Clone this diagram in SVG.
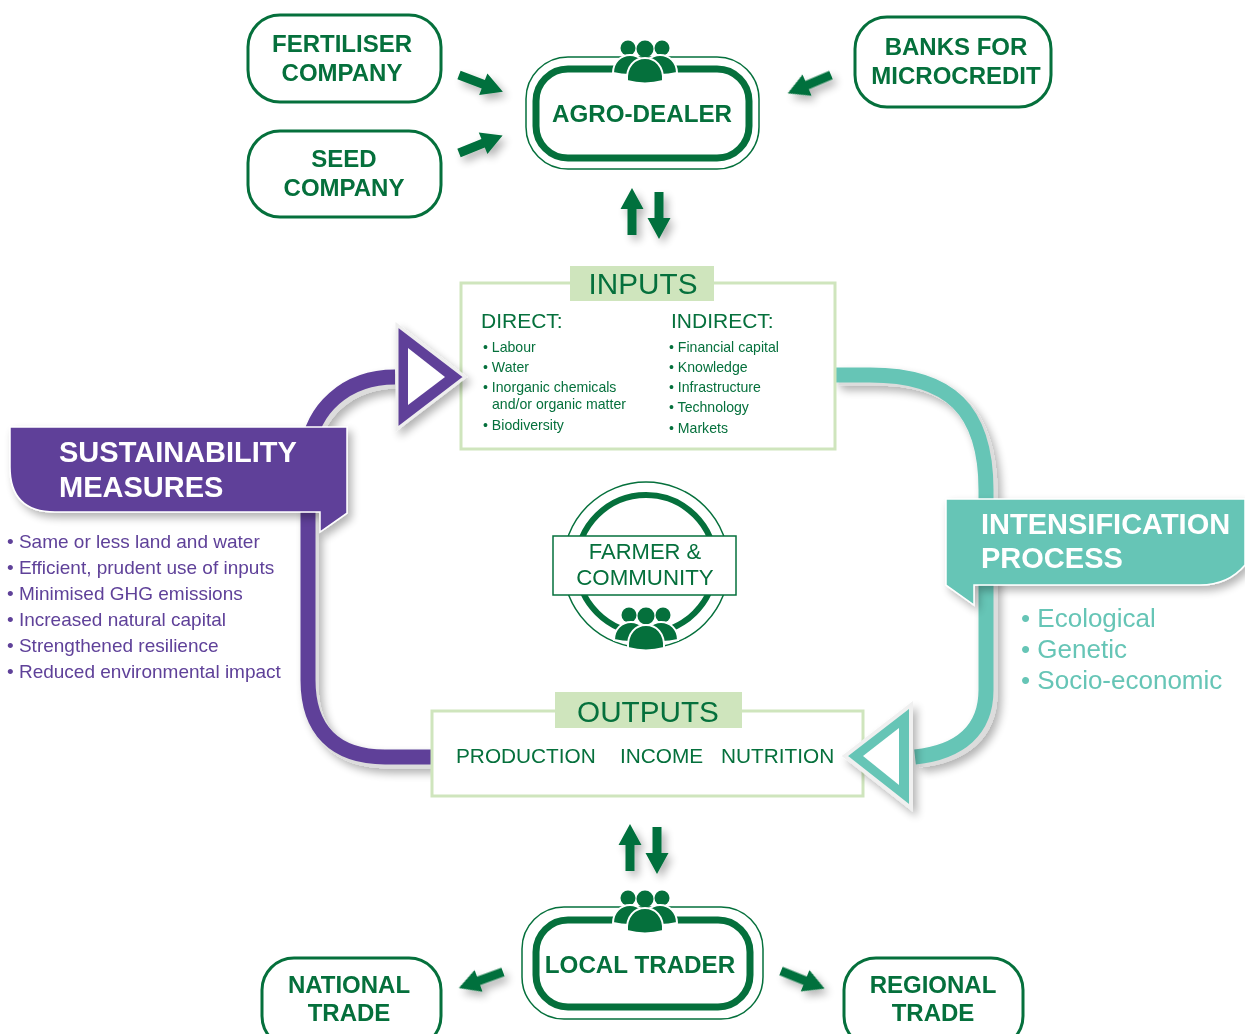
<svg xmlns="http://www.w3.org/2000/svg" width="1245" height="1034" viewBox="0 0 1245 1034">
<style>
text{font-family:"Liberation Sans",Arial,sans-serif;fill:#05703c}
.b{font-weight:bold;font-size:24px;text-anchor:middle}
.box{fill:#fff;stroke:#05703c;stroke-width:3}
.out{fill:#fff;stroke:#05703c;stroke-width:1.5}
.inn{fill:#fff;stroke:#05703c;stroke-width:7}
.lg{fill:#fff;stroke:#cfe5bd;stroke-width:3}
.tag{fill:#cfe5bd}
.h{font-size:29.7px;text-anchor:middle}
.s{font-size:14.1px}
.d{font-size:21px}
.o{font-size:20.8px}
.w{font-weight:bold;font-size:29px;fill:#fff}
.p{font-size:19px;fill:#5f4199}
.t{font-size:26px;fill:#66c5b6}
.band{fill:none;stroke-width:15}
</style>
<defs>
<filter id="sh" x="-30%" y="-30%" width="170%" height="170%"><feGaussianBlur in="SourceAlpha" stdDeviation="4"/><feOffset dx="4" dy="5"/><feComponentTransfer><feFuncA type="linear" slope="0.3"/></feComponentTransfer><feMerge><feMergeNode/><feMergeNode in="SourceGraphic"/></feMerge></filter>
<polygon id="arrow" points="0,-4.5 26,-4.5 26,-11.5 47,0 26,11.5 26,4.5 0,4.5" fill="#05703c"/>
<g id="people" fill="#05703c">
<circle cx="-17" cy="8" r="7.5"/><circle cx="17" cy="8" r="7.5"/><circle cx="0" cy="9" r="8.5"/>
<path d="M-32 33C-32 22-24 15-15 15S2 22 2 33Q-15 37-32 33Z" stroke="#fff" stroke-width="2"/>
<path d="M32 33C32 22 24 15 15 15S-2 22-2 33Q15 37 32 33Z" stroke="#fff" stroke-width="2"/>
<path d="M-18 41C-19 26-10 18 0 18S19 26 18 41Q0 46-18 41Z" stroke="#fff" stroke-width="2"/>
</g>
</defs>

<g id="connectors">
<g filter="url(#sh)">
<use href="#arrow" transform="translate(459,75) rotate(21)"/>
<use href="#arrow" transform="translate(459,153) rotate(-22)"/>
<use href="#arrow" transform="translate(831,75) rotate(157)"/>
<use href="#arrow" transform="translate(632,235) rotate(-90)"/>
<use href="#arrow" transform="translate(659,192) rotate(90)"/>
<use href="#arrow" transform="translate(630,871) rotate(-90)"/>
<use href="#arrow" transform="translate(657,827) rotate(90)"/>
<use href="#arrow" transform="translate(503,972) rotate(160)"/>
<use href="#arrow" transform="translate(781,971) rotate(22)"/>
</g>
<g id="purple-band" filter="url(#sh)">
<path class="band" stroke="#dcdcdc" transform="translate(3,4)" d="M432 757H385C335 757 308 730 308 680V450C312 410 345 377 395 377"/>
<path class="band" stroke="#5f4199" d="M432 757H385C335 757 308 730 308 680V450C312 410 345 377 395 377"/>
</g>
<g id="teal-band" filter="url(#sh)">
<path class="band" stroke="#dcdcdc" transform="translate(4,3)" d="M835 375H870C950 375 986 410 986 490V690C986 730 960 752 915 757"/>
<path class="band" stroke="#66c5b6" d="M835 375H870C950 375 986 410 986 490V690C986 730 960 752 915 757"/>
</g>
</g>

<g id="fertiliser-company"><rect class="box" x="248" y="15" width="193" height="87" rx="32"/>
<text class="b" x="342" y="52">FERTILISER</text><text class="b" x="342" y="81">COMPANY</text></g>
<g id="seed-company"><rect class="box" x="248" y="131" width="193" height="86" rx="32"/>
<text class="b" x="344" y="167">SEED</text><text class="b" x="344" y="196">COMPANY</text></g>
<g id="banks"><rect class="box" x="855" y="17" width="196" height="90" rx="32"/>
<text class="b" x="956" y="55">BANKS FOR</text><text class="b" x="956" y="84">MICROCREDIT</text></g>

<g id="agro-dealer"><rect class="out" x="526" y="57" width="233" height="112" rx="42"/>
<rect class="inn" x="536" y="69" width="213" height="89" rx="32"/>
<use href="#people" transform="translate(645,40)"/>
<text class="b" x="642" y="122" style="font-size:24.2px">AGRO-DEALER</text></g>

<g id="inputs"><rect class="lg" x="461" y="283" width="374" height="166"/>
<rect class="tag" x="570" y="266" width="144" height="35"/>
<text class="h" x="643" y="294">INPUTS</text>
<text class="d" x="481" y="328">DIRECT:</text>
<text class="s" x="483" y="352">• Labour</text>
<text class="s" x="483" y="372">• Water</text>
<text class="s" x="483" y="392">• Inorganic chemicals</text>
<text class="s" x="492" y="409">and/or organic matter</text>
<text class="s" x="483" y="430">• Biodiversity</text>
<text class="d" x="671" y="328">INDIRECT:</text>
<text class="s" x="669" y="352">• Financial capital</text>
<text class="s" x="669" y="372">• Knowledge</text>
<text class="s" x="669" y="392">• Infrastructure</text>
<text class="s" x="669" y="412">• Technology</text>
<text class="s" x="669" y="433">• Markets</text></g>

<g id="outputs"><rect class="lg" x="432" y="711" width="431" height="85"/>
<rect class="tag" x="555" y="692" width="187" height="36"/>
<text class="h" x="648" y="722">OUTPUTS</text>
<text class="o" x="456" y="763">PRODUCTION</text>
<text class="o" x="620" y="763">INCOME</text>
<text class="o" x="721" y="763">NUTRITION</text></g>

<g id="farmer-community">
<circle cx="646" cy="565" r="83" fill="#fff" stroke="#05703c" stroke-width="1.5"/>
<circle cx="646" cy="564" r="69" fill="#fff" stroke="#05703c" stroke-width="6"/>
<rect x="553" y="536" width="183" height="59" fill="#fff" stroke="#05703c" stroke-width="1.5"/>
<use href="#people" transform="translate(646,607)"/>
<text x="645" y="559" text-anchor="middle" style="font-size:22px">FARMER &amp;</text>
<text x="645" y="585" text-anchor="middle" style="font-size:22.3px">COMMUNITY</text></g>

<g id="purple-triangle" filter="url(#sh)"><polygon points="397,325 465,377 397,429" fill="#5f4199" stroke="#eee" stroke-width="3"/><polygon points="408,348 445,377 408,405" fill="#fff"/></g>
<g id="teal-triangle" filter="url(#sh)"><polygon points="845,756 911,705 911,808" fill="#66c5b6" stroke="#f0f0f0" stroke-width="4"/><polygon points="863,756 899,728 899,785" fill="#fff"/></g>

<g id="sustainability">
<path filter="url(#sh)" d="M10 427H347V513L320 532V512H55Q10 512 10 467Z" fill="#5f4199" stroke="#fff" stroke-width="1.5"/>
<text class="w" x="59" y="462">SUSTAINABILITY</text><text class="w" x="59" y="497">MEASURES</text>
<text class="p" x="7" y="548">• Same or less land and water</text>
<text class="p" x="7" y="574">• Efficient, prudent use of inputs</text>
<text class="p" x="7" y="600">• Minimised GHG emissions</text>
<text class="p" x="7" y="626">• Increased natural capital</text>
<text class="p" x="7" y="652">• Strengthened resilience</text>
<text class="p" x="7" y="678">• Reduced environmental impact</text></g>

<g id="intensification">
<path filter="url(#sh)" d="M946 499H1245V565Q1228 585 1200 585H974V605L946 585Z" fill="#66c5b6" stroke="#fff" stroke-width="1.5"/>
<text class="w" x="981" y="534">INTENSIFICATION</text><text class="w" x="981" y="568">PROCESS</text>
<text class="t" x="1021" y="627">• Ecological</text>
<text class="t" x="1021" y="658">• Genetic</text>
<text class="t" x="1021" y="689">• Socio-economic</text></g>

<g id="local-trader"><rect class="out" x="522" y="907" width="241" height="112" rx="42"/>
<rect class="inn" x="536" y="920" width="214" height="87" rx="32"/>
<use href="#people" transform="translate(645,890)"/>
<text class="b" x="640" y="973" style="font-size:24.2px">LOCAL TRADER</text></g>
<g id="national-trade"><rect class="box" x="262" y="958" width="179" height="90" rx="32"/>
<text class="b" x="349" y="993">NATIONAL</text><text class="b" x="349" y="1021">TRADE</text></g>
<g id="regional-trade"><rect class="box" x="844" y="958" width="179" height="90" rx="32"/>
<text class="b" x="933" y="993">REGIONAL</text><text class="b" x="933" y="1021">TRADE</text></g>
</svg>
